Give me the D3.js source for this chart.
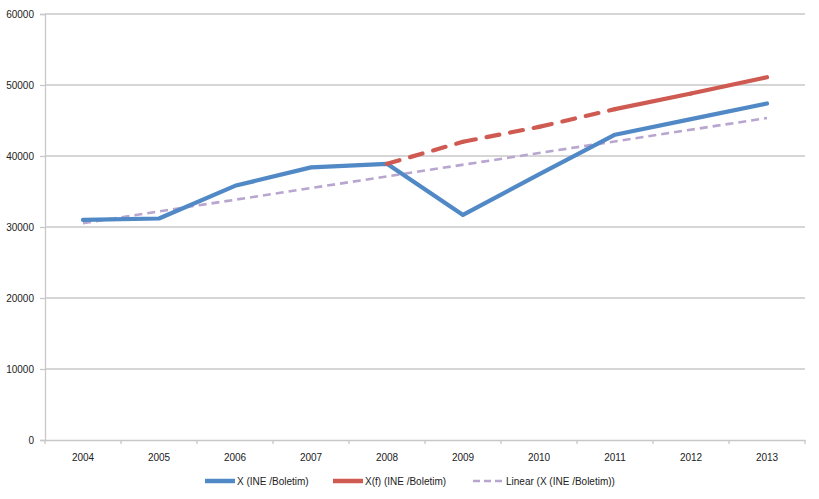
<!DOCTYPE html>
<html>
<head>
<meta charset="utf-8">
<script src="https://cdn.jsdelivr.net/npm/d3@7"></script>
<style>
  html, body { margin: 0; padding: 0; background: #fff; }
  svg { display: block; }
  text { font-family: "Liberation Sans", Arial, sans-serif; font-size: 10px; fill: #222; }
</style>
</head>
<body>
<svg id="chart" width="819" height="499"></svg>
<script>
const years = ["2004","2005","2006","2007","2008","2009","2010","2011","2012","2013"];
const seriesX = [31000, 31200, 35800, 38400, 38900, 31700, 37400, 43000, 45200, 47400];
const seriesXfYears = ["2008","2009","2010","2011","2012","2013"];
const seriesXf = [38900, 42000, 44100, 46600, 48800, 51100];
const trendYears = ["2004","2013"];
const trendValues = [30550, 45350];
const yTicks = [0, 10000, 20000, 30000, 40000, 50000, 60000];
const legendLabels = ["X (INE /Boletim)", "X(f) (INE /Boletim)", "Linear (X (INE /Boletim))"];

const svg = d3.select("#chart");
const mLeft = 45, mRight = 805, mTop = 14, mBottom = 440;

const x = d3.scaleBand().domain(years).range([mLeft, mRight]);
const xc = d => x(d) + x.bandwidth() / 2;
const y = d3.scaleLinear().domain([0, 60000]).range([mBottom, mTop]);

const gridColor = "#c8c8c8";

// gridlines
svg.append("g").selectAll("line").data(yTicks.filter(d => d > 0)).join("line")
  .attr("x1", mLeft).attr("x2", mRight)
  .attr("y1", d => y(d)).attr("y2", d => y(d))
  .attr("stroke", gridColor).attr("stroke-width", 1.3);

// y axis
const yAxis = svg.append("g").attr("transform", `translate(${mLeft},0)`)
  .call(d3.axisLeft(y).tickValues(yTicks).tickSize(5).tickPadding(6).tickFormat(d3.format("d")));
yAxis.select(".domain").attr("stroke", gridColor).attr("stroke-width", 1.3);
yAxis.selectAll(".tick line").attr("stroke", gridColor).attr("stroke-width", 1.3);
yAxis.selectAll("text").style("font-family", "Liberation Sans, Arial, sans-serif").style("font-size", "10px").attr("fill", "#222");

// x axis
const xAxis = svg.append("g").attr("transform", `translate(0,${mBottom})`)
  .call(d3.axisBottom(x).tickSize(0).tickPadding(14));
xAxis.select(".domain").attr("stroke", gridColor).attr("stroke-width", 1.3);
xAxis.selectAll("text").style("font-family", "Liberation Sans, Arial, sans-serif").style("font-size", "10px").attr("fill", "#222");
// boundary ticks
const bounds = years.map(d => x(d)).concat([mRight]);
svg.append("g").selectAll("line").data(bounds).join("line")
  .attr("x1", d => d).attr("x2", d => d)
  .attr("y1", mBottom).attr("y2", mBottom + 4)
  .attr("stroke", gridColor).attr("stroke-width", 1.3);

const line = d3.line().x(d => xc(d[0])).y(d => y(d[1]));

const blue = "#5089c6", red = "#cf5a52", purple = "#b8a6cf";

// trend line
svg.append("path")
  .attr("d", line(trendYears.map((d, i) => [d, trendValues[i]])))
  .attr("fill", "none").attr("stroke", purple).attr("stroke-width", 2.6)
  .attr("stroke-dasharray", "8,5");

// blue series
svg.append("path")
  .attr("d", line(years.map((d, i) => [d, seriesX[i]])))
  .attr("fill", "none").attr("stroke", blue).attr("stroke-width", 4.2)
  .attr("stroke-linejoin", "round").attr("stroke-linecap", "round");

// red series: dashed until 2011, solid after
const xfPts = seriesXfYears.map((d, i) => [d, seriesXf[i]]);
for (let i = 0; i < xfPts.length - 1; i++) {
  const seg = svg.append("path")
    .attr("d", line([xfPts[i], xfPts[i + 1]]))
    .attr("fill", "none").attr("stroke", red).attr("stroke-width", 4.2)
    .attr("stroke-linecap", "round");
  if (+xfPts[i][0] < 2011) seg.attr("stroke-dasharray", "13,11");
}

// legend
const ly = 481;
const legendItems = [
  { label: legendLabels[0], color: blue, x1: 205, x2: 235, w: 4.5, dash: null },
  { label: legendLabels[1], color: red, x1: 333, x2: 363, w: 4.5, dash: null },
  { label: legendLabels[2], color: purple, x1: 473, x2: 502, w: 2.6, dash: "7,4" }
];
const lg = svg.append("g");
legendItems.forEach(it => {
  const l = lg.append("line").attr("x1", it.x1).attr("x2", it.x2).attr("y1", ly).attr("y2", ly)
    .attr("stroke", it.color).attr("stroke-width", it.w);
  if (it.dash) l.attr("stroke-dasharray", it.dash);
  lg.append("text").attr("x", it.x2 + (it.dash ? 4 : 2)).attr("y", ly).attr("dy", "0.35em").text(it.label);
});
</script>
</body>
</html>
